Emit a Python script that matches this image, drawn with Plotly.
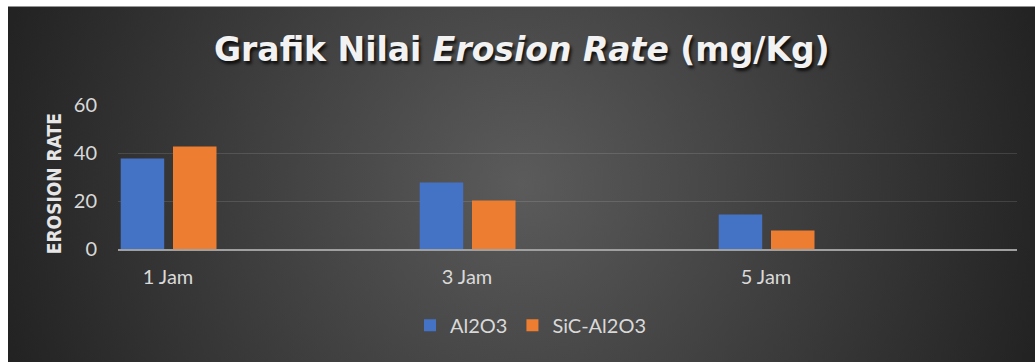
import base64
import plotly.graph_objects as go

# Data
categories = ["1 Jam", "3 Jam", "5 Jam"]
al2o3 = [37.7, 27.7, 14.4]
sic_al2o3 = [42.7, 20.2, 7.7]
y_ticks = [0, 20, 40, 60]

W, H = 1035, 363
# plot area in pixels
PL, PR, PT, PB = 118, 1017, 105, 249.5
pw, ph = PR - PL, PB - PT


def px_x(p):
    return (p - PL) / pw


def px_y(p):
    return (PB - p) / ph


# dark radial background card
card_w, card_h = W - 8, H - 6
svg = f"""<svg xmlns='http://www.w3.org/2000/svg' width='{card_w}' height='{card_h}' viewBox='0 0 {card_w} {card_h}' preserveAspectRatio='none'>
<defs><radialGradient id='g' gradientUnits='userSpaceOnUse' cx='{card_w/2}' cy='{card_h/2}' r='545'>
<stop offset='0' stop-color='#5b5b5b'/><stop offset='1' stop-color='#222222'/></radialGradient></defs>
<rect width='{card_w}' height='{card_h}' fill='url(#g)'/></svg>"""
bg_src = "data:image/svg+xml;base64," + base64.b64encode(svg.encode()).decode()

x_idx = list(range(len(categories)))
unit = 299.0  # pixels per category step
bar_w = 43.5 / unit

fig = go.Figure()
fig.add_trace(go.Bar(
    x=x_idx, y=al2o3, name="Al2O3",
    marker=dict(color="#4472c4", line=dict(width=0)),
    width=bar_w, offset=-47.3 / unit,
))
fig.add_trace(go.Bar(
    x=x_idx, y=sic_al2o3, name="SiC-Al2O3",
    marker=dict(color="#ed7d31", line=dict(width=0)),
    width=bar_w, offset=5.0 / unit,
))

x0 = -(168 - PL) / unit
fig.update_layout(
    width=W, height=H,
    margin=dict(l=PL, r=W - PR, t=PT, b=H - PB, pad=0),
    paper_bgcolor="white",
    plot_bgcolor="rgba(0,0,0,0)",
    barmode="overlay",
    showlegend=True,
    legend=dict(
        orientation="h", x=px_x(531), y=px_y(326), xanchor="center", yanchor="middle",
        font=dict(family="Lato", size=20, color="#d9d9d9"),
        bgcolor="rgba(0,0,0,0)",
    ),
    xaxis=dict(
        range=[x0, x0 + pw / unit], tickvals=x_idx, ticktext=categories,
        showgrid=False, zeroline=False, showline=True, linecolor="#a0a0a0", linewidth=2,
        ticks="", ticklabelstandoff=9, layer="above traces",
        tickfont=dict(family="Lato", size=20, color="#d9d9d9"),
    ),
    yaxis=dict(
        range=[0, 60], tickvals=y_ticks, showgrid=True,
        gridcolor="rgba(255,255,255,0.12)", gridwidth=1, zeroline=False,
        showline=False, ticks="", ticklabelstandoff=20,
        tickfont=dict(family="Lato", size=20, color="#d9d9d9"),
    ),
    images=[dict(
        source=bg_src, xref="paper", yref="paper",
        x=px_x(8), y=px_y(6), sizex=card_w / pw, sizey=card_h / ph,
        xanchor="left", yanchor="top", sizing="stretch", layer="below",
    )],
    annotations=[
        dict(
            text="Grafik Nilai <i>Erosion Rate</i> (mg/Kg)",
            xref="paper", yref="paper", x=px_x(521.5), y=px_y(49),
            xanchor="center", yanchor="middle", showarrow=False,
            font=dict(family="DejaVu Sans", size=33, color="#f2f2f2", weight="bold",
                      shadow="2px 3px 3px rgba(0,0,0,0.75)"),
        ),
        dict(
            text="<b>EROSION RATE</b>",
            xref="paper", yref="paper", x=px_x(53.5), y=px_y(184),
            xanchor="center", yanchor="middle", showarrow=False, textangle=-90,
            font=dict(family="DejaVu Sans Condensed, Roboto", size=19, color="#e6e6e6"),
        ),
    ],
)

fig.write_html("out.html")
